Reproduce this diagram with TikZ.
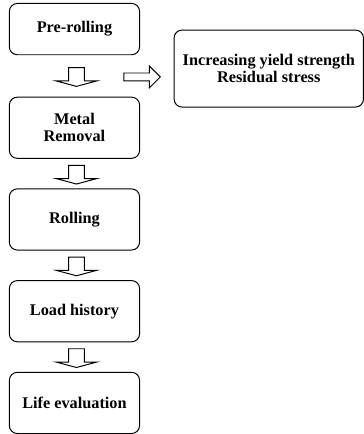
\documentclass[tikz,border=0pt]{standalone}
\usepackage{fontspec}
\setmainfont{Liberation Serif}
\usepackage{tikz}
\usetikzlibrary{positioning, shapes.arrows, calc}

\begin{document}
\begin{tikzpicture}[
stepbox/.style={rectangle, draw=black, line width=1pt, rounded corners=8pt, minimum width=132pt, minimum height=62pt, align=center, font=\fontsize{16.5}{17.5}\selectfont\bfseries},
downarrow/.style={single arrow, draw=black, line width=1pt, shape border rotate=270, inner sep=7.5pt, single arrow head extend=12.5pt, single arrow tip angle=150, minimum height=19pt},
sidearrow/.style={single arrow, draw=black, line width=1pt, inner sep=3.5pt, single arrow head extend=7pt, single arrow tip angle=90, minimum height=37pt}
]
\node[stepbox, minimum height=52pt] (pre) {Pre-rolling};
\node[stepbox] (metal) [below=42pt of pre] {Metal\\Removal};
\node[stepbox] (roll)  [below=30pt of metal] {Rolling};
\node[stepbox] (load)  [below=30pt of roll] {Load history};
\node[stepbox] (life)  [below=30pt of load] {Life evaluation};
\node[stepbox, minimum width=192pt, minimum height=78pt] (gain) [below right=27pt and 34pt of pre.north east] {Increasing yield strength\\Residual stress};

\node[downarrow] (ar1) at ($(pre.south)!.5!(metal.north)+(2pt,0)$) {};
\node[downarrow] (ar2) at ($(metal.south)!.5!(roll.north)+(2pt,0)$) {};
\node[downarrow] (ar3) at ($(roll.south)!.5!(load.north)+(2pt,0)$) {};
\node[downarrow] (ar4) at ($(load.south)!.5!(life.north)+(2pt,0)$) {};
\node[sidearrow] (ar0) at ([xshift=64.5pt,yshift=-1pt]ar1.center) {};

\useasboundingbox ([xshift=-9pt,yshift=3pt]pre.north west) rectangle +(369pt,-434pt);
\end{tikzpicture}
\end{document}
